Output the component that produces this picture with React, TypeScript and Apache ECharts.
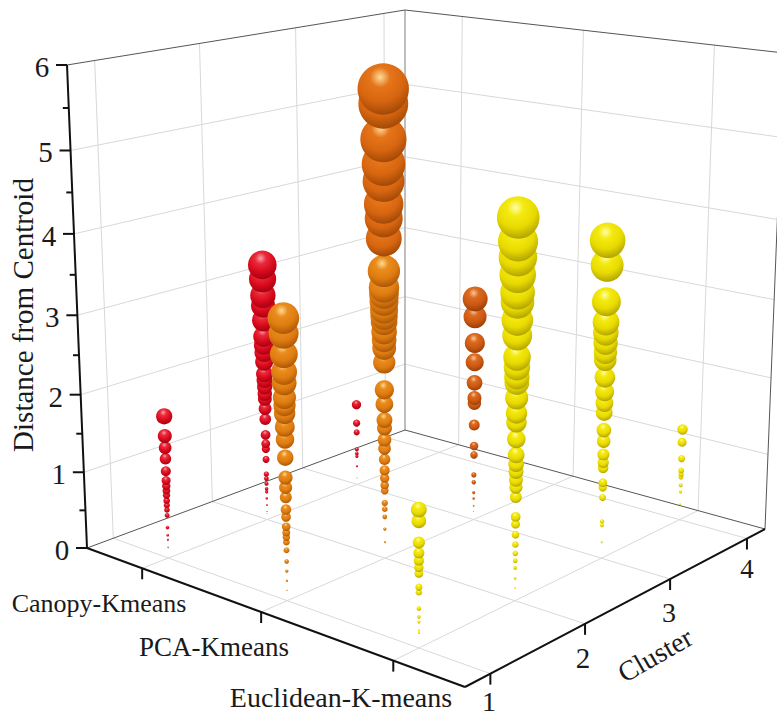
import React, { useEffect, useRef } from "react";
import * as echarts from "echarts";

const methods = ["Canopy-Kmeans", "PCA-Kmeans", "Euclidean-K-means"];
const clusters = [1, 2, 3, 4];
const distanceTicks = [0, 1, 2, 3, 4, 5, 6];

const canopy1 = [1.83, 1.58, 1.43, 1.29, 1.13, 1.01, 0.94, 0.88, 0.82, 0.75, 0.69, 0.63, 0.56, 0.4, 0.3, 0.24, 0.14];
const canopy2 = [3.37, 3.19, 2.98, 2.85, 2.66, 2.45, 2.34, 2.24, 2.12, 1.96, 1.88, 1.79, 1.7, 1.63, 1.5, 1.36, 1.15, 1.03, 0.96, 0.82, 0.62, 0.56, 0.49, 0.42, 0.38, 0.29, 0.2, 0.11, 0.08];
const canopy3 = [1.13, 0.87, 0.74, 0.5, 0.44, 0.4, 0.26, 0.09];
const pca1 = [3.41, 3.23, 2.99, 2.78, 2.65, 2.48, 2.39, 2.29, 2.13, 1.98, 1.76, 1.52, 1.4, 1.28, 1.13, 1.04, 0.92, 0.85, 0.79, 0.73, 0.63, 0.49, 0.37, 0.25, 0.13];
const pca2 = [5.76, 5.59, 5.18, 4.89, 4.69, 4.42, 4.25, 4.01, 3.62, 3.42, 3.34, 3.25, 3.15, 3.07, 3.0, 2.88, 2.78, 2.68, 2.5, 2.16, 1.98, 1.78, 1.68, 1.53, 1.42, 1.28, 1.14, 1.04, 0.95, 0.88, 0.72, 0.64, 0.54, 0.38, 0.21];
const pca3 = [2.93, 2.7, 2.36, 2.11, 1.84, 1.64, 1.57, 1.28, 1.0, 0.88, 0.61, 0.51, 0.37, 0.29, 0.19, 0.11];
const euclid1 = [1.62, 1.49, 1.24, 1.12, 1.03, 0.95, 0.88, 0.72, 0.66, 0.47, 0.37, 0.31, 0.21, 0.18];
const euclid2 = [4.55, 4.28, 4.1, 3.9, 3.7, 3.59, 3.38, 3.2, 2.95, 2.83, 2.72, 2.65, 2.47, 2.29, 2.18, 1.98, 1.79, 1.68, 1.59, 1.49, 1.4, 1.28, 1.04, 0.95, 0.82, 0.7, 0.59, 0.5, 0.41, 0.28, 0.16];
const euclid3 = [3.98, 3.68, 3.24, 2.99, 2.86, 2.74, 2.62, 2.53, 2.31, 2.13, 1.99, 1.87, 1.65, 1.51, 1.34, 1.24, 1.17, 0.98, 0.92, 0.79, 0.48, 0.43, 0.21];
const euclid4 = [1.22, 1.05, 0.83, 0.67, 0.62, 0.58, 0.47, 0.38, 0.21, 0.06];

const columns: [number, number, number[], string][] = [
  [1, 3, canopy3, "red"],
  [1, 2, canopy2, "red"],
  [1, 1, canopy1, "red"],
  [2, 3, pca3, "deep"],
  [2, 2, pca2, "orange"],
  [2, 1, pca1, "orange"],
  [3, 4, euclid4, "yellow"],
  [3, 3, euclid3, "yellow"],
  [3, 2, euclid2, "yellow"],
  [3, 1, euclid1, "yellow"],
];

const shades: Record<string, string[]> = {
  red: ["#f7a0aa", "#ea2a3a", "#d80a1c", "#a00012"],
  deep: ["#f8c89a", "#dc6a20", "#cc5812", "#923c08"],
  amber: ["#fcdc98", "#e5741a", "#d86610", "#9c4606"],
  orange: ["#fcdc90", "#ea8c1e", "#de7c10", "#a65206"],
  yellow: ["#fefda8", "#f4ea10", "#e8da00", "#ac9e00"],
};

type P = [number, number];
const quad = (p0: P, p1: P, p2: P, p3: P) => {
  const dx1 = p1[0] - p2[0], dx2 = p3[0] - p2[0], sx = p0[0] - p1[0] + p2[0] - p3[0];
  const dy1 = p1[1] - p2[1], dy2 = p3[1] - p2[1], sy = p0[1] - p1[1] + p2[1] - p3[1];
  const den = dx1 * dy2 - dx2 * dy1;
  const g = (sx * dy2 - dx2 * sy) / den, h = (dx1 * sy - sx * dy1) / den;
  const a = p1[0] - p0[0] + g * p1[0], b = p3[0] - p0[0] + h * p3[0];
  const d = p1[1] - p0[1] + g * p1[1], e = p3[1] - p0[1] + h * p3[1];
  return (u: number, v: number): P => {
    const w = g * u + h * v + 1;
    return [(a * u + b * v + p0[0]) / w, (d * u + e * v + p0[1]) / w];
  };
};
const floorMap = quad([87, 548], [465, 687], [765, 529], [405, 430]);
const topMap = quad([67, 65], [466, 124], [784, 53], [405, 10]);
const uOf = (m: number) => (m - 0.5) / 3;
const vOf = (c: number) => (c - 0.75) / 3.5;
const project = (m: number, c: number, d: number): P => {
  const f = floorMap(uOf(m), vOf(c));
  const t = topMap(uOf(m), vOf(c));
  const w = d / 6;
  const s = (w * 0.93) / (1 + w * (0.93 - 1));
  return [f[0] + (t[0] - f[0]) * s, f[1] + (t[1] - f[1]) * s];
};
const sizeOf = (m: number, c: number, d: number) => {
  const H = floorMap(uOf(m), vOf(c))[1] - topMap(uOf(m), vOf(c))[1];
  return 2 * 0.0091 * d * H;
};
const sphere = (key: string) => {
  const s = shades[key];
  return new echarts.graphic.RadialGradient(0.44, 0.27, 0.76, [
    { offset: 0, color: s[0] },
    { offset: 0.26, color: s[1] },
    { offset: 0.62, color: s[2] },
    { offset: 1, color: s[3] },
  ]);
};

const M0 = 0.5, M1 = 3.5, C0 = 0.75, C1 = 4.25;
const frameStyles = [
  { stroke: "#d8d8d8", lineWidth: 1 },
  { stroke: "#555555", lineWidth: 1 },
  { stroke: "#111111", lineWidth: 2 },
  { stroke: "#a8a8a8", lineWidth: 1.5 },
];
const buildFrame = () => {
  const segs: number[][] = [];
  const add = (a: P, b: P, k: number) => segs.push([a[0], a[1], b[0], b[1], k]);
  clusters.forEach((c) => {
    add(project(M0, c, 0), project(M1, c, 0), 0);
    add(project(M0, c, 0), project(M0, c, 6), 0);
  });
  methods.forEach((_, i) => {
    add(project(i + 1, C0, 0), project(i + 1, C1, 0), 0);
    add(project(i + 1, C1, 0), project(i + 1, C1, 6), 0);
  });
  distanceTicks.slice(1, 6).forEach((d) => {
    add(project(M0, C0, d), project(M0, C1, d), 0);
    add(project(M0, C1, d), project(M1, C1, d), 0);
  });
  add(project(M0, C1, 0), project(M0, C1, 6), 3);
  add(project(M1, C1, 0), project(M1, C1, 6), 1);
  add(project(M0, C0, 0), project(M0, C1, 0), 1);
  add(project(M0, C1, 0), project(M1, C1, 0), 1);
  add(project(M0, C0, 6), project(M0, C1, 6), 1);
  add(project(M0, C1, 6), project(M1, C1, 6), 1);
  add(project(M0, C0, 0), project(M0, C0, 6), 2);
  add(project(M0, C0, 0), project(M1, C0, 0), 2);
  add(project(M1, C0, 0), project(M1, C1, 0), 2);
  for (let d = 0; d <= 6; d += 0.5) {
    const p = project(M0, C0, d);
    add(p, [p[0] - (Number.isInteger(d) ? 11 : 6), p[1]], 2);
  }
  methods.forEach((_, i) => {
    const p = project(i + 1, C0, 0);
    add(p, [p[0], p[1] + 11], 2);
  });
  clusters.forEach((c) => {
    const p = project(M1, c, 0);
    add(p, [p[0], p[1] + 11], 2);
  });
  return segs;
};

const FONT = '"Liberation Serif", "Times New Roman", serif';
const label = (text: string, x: number, y: number, size: number, rotation = 0) => ({
  type: "text",
  x,
  y,
  rotation,
  style: { text, font: `${size}px ${FONT}`, fill: "#1a1a1a", textAlign: "center", textVerticalAlign: "middle" },
});

export default function App() {
  const ref = useRef<HTMLDivElement>(null);
  useEffect(() => {
    document.body.style.margin = "0";
    const chart = echarts.init(ref.current!, undefined, { renderer: "svg" });
    const graphics: any[] = [
      ...distanceTicks.map((d) => {
        const p = project(M0, C0, d);
        return label(String(d), p[0] - 25, p[1] + 2, 29);
      }),
      label(methods[0], 99, 603, 26),
      label(methods[1], 214, 647, 27),
      label(methods[2], 341, 697, 28),
      label("1", 489, 701, 28),
      label("2", 583, 658, 29),
      label("3", 669, 612, 28),
      label("4", 747, 569, 27),
      label("Distance from Centroid", 23, 315, 29, Math.PI / 2),
      label("Cluster", 655, 655, 28, 0.52),
    ];
    chart.setOption({
      animation: false,
      backgroundColor: "#ffffff",
      grid: { left: 0, right: 0, top: 0, bottom: 0 },
      xAxis: { type: "value", min: 0, max: 777, show: false },
      yAxis: { type: "value", min: 0, max: 717, inverse: true, show: false },
      graphic: graphics,
      series: [
        {
          type: "custom",
          silent: true,
          clip: false,
          z: 1,
          data: buildFrame(),
          encode: { x: [0, 2], y: [1, 3] },
          renderItem: (_: any, api: any) => {
            const a = api.coord([api.value(0), api.value(1)]);
            const b = api.coord([api.value(2), api.value(3)]);
            return {
              type: "line",
              shape: { x1: a[0], y1: a[1], x2: b[0], y2: b[1] },
              style: { ...frameStyles[api.value(4)], fill: null },
            };
          },
        },
        ...columns.map(([m, c, values, key]) => ({
          type: "scatter",
          name: `${methods[m - 1]} ${c}`,
          z: 3,
          symbol: "circle",
          symbolSize: (v: number[]) => v[3],
          itemStyle: { opacity: 1 },
          data: [...values].reverse().map((d) => {
            const p = project(m, c, d);
            const shade = key === "orange" && c === 2 && d > 3.8 ? "amber" : key;
            return { value: [p[0], p[1], d, sizeOf(m, c, d)], itemStyle: { color: sphere(shade), opacity: 1 } };
          }),
        })),
      ],
    });
    return () => chart.dispose();
  }, []);
  return <div ref={ref} style={{ position: "absolute", left: 0, top: 0, width: 777, height: 717, overflow: "hidden" }} />;
}
